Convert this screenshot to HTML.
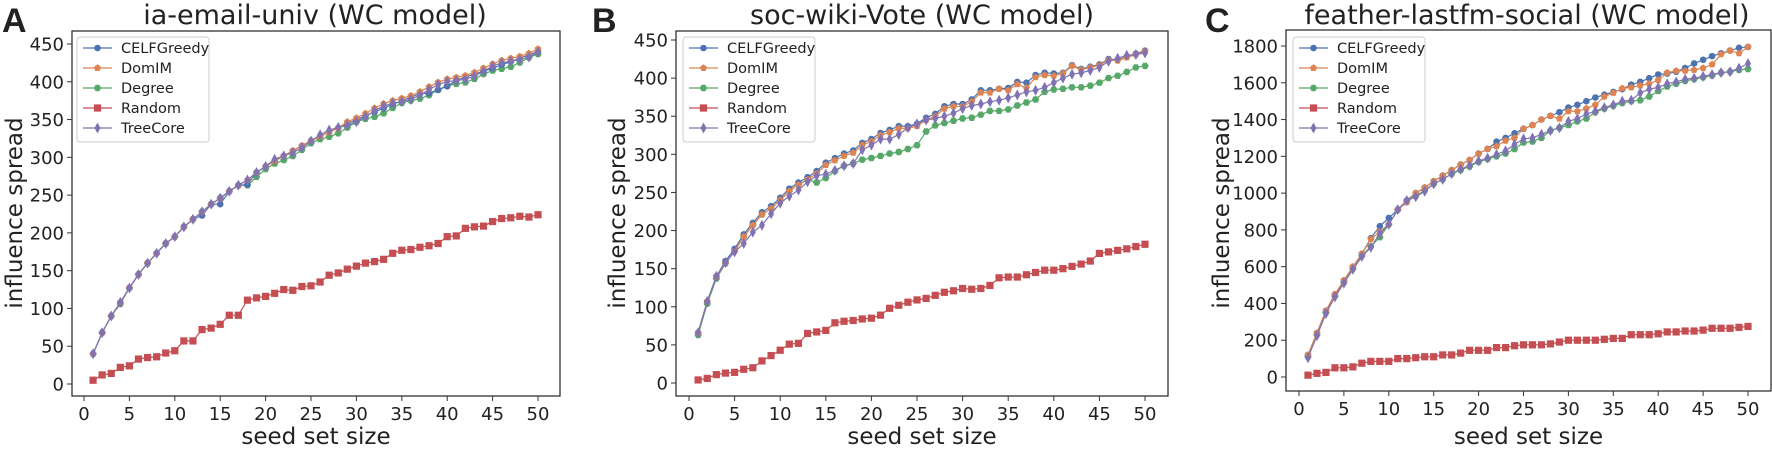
<!DOCTYPE html>
<html><head><meta charset="utf-8"><style>
html,body{margin:0;padding:0;background:#fff;}
svg text{font-family:"DejaVu Sans","Liberation Sans",sans-serif;fill:#222;}
</style></head><body>
<svg id="s" width="1772" height="447" xmlns="http://www.w3.org/2000/svg"></svg>
<script>
function interp(pts){var o=[];for(var k=1;k<=50;k++){for(var i=0;i<pts.length-1;i++){if(k>=pts[i][0]&&k<=pts[i+1][0]){var t=(k-pts[i][0])/(pts[i+1][0]-pts[i][0]);o.push(pts[i][1]+t*(pts[i+1][1]-pts[i][1]));break;}}}return o;}
var C={b:"#4c72b0",o:"#dd8452",g:"#55a868",r:"#c44e52",p:"#8172b3"};
var Amain=interp([[1,40],[2,68],[3,90],[4,108],[5,127],[6,145],[7,160],[8,173],[9,186],[10,195],[11,208],[12,218],[13,228],[14,238],[15,246],[16,255],[17,263],[18,270],[19,280],[20,288],[22,302],[25,322],[30,350],[35,375],[40,398],[45,418],[50,440]]);
function off(a,f){return a.map(function(v,i){return v+f(i+1);});}
var A={
b:off(Amain,function(k){return k==15?-8:k==13?-5:k==18?-6:k>=38&&k<=40?-4:0}),
o:off(Amain,function(k){return k>28?4+Math.sin(k)*2:0}),
g:off(Amain,function(k){return k>17?-5+Math.sin(k*1.3)*2:k==4?-2:0}),
p:off(Amain,function(k){return k>20?Math.sin(k)*3:0}),
r:[5,12,14,22,24,33,35,36,41,44,57,57,72,74,79,91,91,111,114,116,120,125,124,129,130,135,144,147,152,156,160,162,165,173,177,178,181,183,186,195,196,206,208,209,215,219,220,222,221,224]};
var Bc=[66,107,140,160,176,195,210,224,232,243,255,263,270,278,289,295,301,305,315,320,328,332,337,337,340,348,353,363,366,366,372,384,384,386,387,395,394,404,407,406,407,417,412,415,418,425,424,428,432,436];
var B={b:Bc,
o:Bc.map(function(v,i){var k=i+1;return k<4?v:v-3+ (k==34?3:0)+(k>40?2:0)+(k==37?-4:0);}),
g:Bc.slice(0,13).map(function(v){return v-3}).concat([263,269,278,285,288,293,295,298,301,303,307,312,330,338,341,344,347,348,352,357,357,359,364,368,372,382,385,386,388,388,390,394,400,403,408,414,416]),
p:[66,107,140,158,172,183,198,207,222,236,245,253,264,272,274,279,285,288,306,312,320,320,326,335,340,345,347,350,354,360,364,366,369,371,374,378,382,384,388,394,400,405,407,410,414,422,426,430,431,433],
r:[4,6,11,13,14,18,20,29,36,43,51,52,65,67,69,79,81,82,84,85,89,98,102,106,109,111,115,119,121,124,123,124,128,138,139,139,142,145,148,148,150,153,156,160,170,172,174,176,179,182]};
var Cc=[120,240,360,450,525,600,670,755,820,865,910,960,1000,1030,1065,1095,1125,1155,1180,1215,1240,1280,1300,1325,1350,1370,1400,1420,1440,1465,1480,1500,1520,1535,1550,1565,1590,1605,1625,1645,1650,1660,1680,1705,1725,1745,1760,1775,1790,1795];
var Co=Cc.slice();[[8,750],[9,790],[10,830],[11,910],[12,950],[22,1255],[23,1285],[24,1300],[26,1370],[28,1420],[29,1405],[30,1445],[31,1445],[32,1460],[33,1480],[34,1525],[35,1545],[36,1570],[37,1575],[38,1585],[39,1595],[40,1615],[41,1655],[42,1665],[43,1665],[44,1670],[45,1680],[46,1700],[47,1755],[48,1775],[49,1760],[50,1795]].forEach(function(p){Co[p[0]-1]=p[1]});
var Cg=Cc.slice(0,7).map(function(v){return v-10}).concat([710,760,830,910,955,985,1015,1050,1075,1105,1125,1145,1170,1185,1200,1215,1240,1275,1280,1300,1340,1355,1370,1390,1405,1440,1460,1475,1490,1500,1505,1525,1555,1580,1595,1610,1620,1630,1640,1655,1660,1670,1675]);
var Cp=Cc.slice(0,7).map(function(v){return v-15}).concat([705,780,830,910,960,980,1010,1050,1075,1105,1130,1150,1175,1190,1210,1230,1265,1295,1300,1320,1340,1355,1390,1405,1430,1445,1465,1480,1500,1505,1545,1565,1575,1595,1605,1620,1625,1635,1645,1655,1660,1680,1705]);
var Cd={b:Cc,o:Co,g:Cg,p:Cp,r:[10,20,25,50,50,55,75,85,85,85,100,100,105,110,110,120,120,130,145,145,145,160,160,170,175,175,175,180,190,200,200,200,200,205,210,210,230,230,230,235,245,245,250,250,255,265,265,265,270,275]};
var panels=[
{L:"A",lx:2,title:"ia-email-univ (WC model)",tx:315,box:[72,31,560,396],x0:84,x50:538,y0:384,ymax:450,yT:44,ticks:[0,50,100,150,200,250,300,350,400,450],ylx:14,d:A,leg:[77,37]},
{L:"B",lx:592,title:"soc-wiki-Vote (WC model)",tx:922,box:[676,31,1168,396],x0:689,x50:1145,y0:383,ymax:450,yT:40,ticks:[0,50,100,150,200,250,300,350,400,450],ylx:617,d:B,leg:[683,37]},
{L:"C",lx:1205,title:"feather-lastfm-social (WC model)",tx:1527,box:[1286,30,1771,391],x0:1299,x50:1748,y0:377,ymax:1800,yT:46,ticks:[0,200,400,600,800,1000,1200,1400,1600,1800],ylx:1221,d:Cd,leg:[1293,37]}];
var h="";
function marker(t,x,y,c){
 if(t=="b")return '<circle cx="'+x+'" cy="'+y+'" r="3.3" fill="'+c+'"/>';
 if(t=="r")return '<rect x="'+(x-3.6)+'" y="'+(y-3.6)+'" width="7.2" height="7.2" fill="'+c+'"/>';
 if(t=="p")return '<polygon points="'+x+','+(y-5.5)+' '+(x+3)+','+y+' '+x+','+(y+5.5)+' '+(x-3)+','+y+'" fill="'+c+'"/>';
 var n=t=="o"?5:6,pts=[];for(var i=0;i<n;i++){var a=-Math.PI/2+i*2*Math.PI/n+(n==6?Math.PI/6:0);pts.push((x+3.7*Math.cos(a)).toFixed(1)+","+(y+3.7*Math.sin(a)).toFixed(1));}
 return '<polygon points="'+pts.join(" ")+'" fill="'+c+'"/>';
}
panels.forEach(function(P){
 var bx=P.box,sx=(P.x50-P.x0)/50,sy=(P.y0-P.yT)/P.ymax;
 function X(k){return P.x0+k*sx} function Y(v){return P.y0-v*sy}
 h+='<text x="'+P.lx+'" y="32" font-size="34" font-weight="bold" style="font-family:\'Liberation Sans\',sans-serif">'+P.L+'</text>';
 h+='<text x="'+P.tx+'" y="24" font-size="27" text-anchor="middle">'+P.title+'</text>';
 h+='<rect x="'+bx[0]+'" y="'+bx[1]+'" width="'+(bx[2]-bx[0])+'" height="'+(bx[3]-bx[1])+'" fill="none" stroke="#333" stroke-width="1.3"/>';
 for(var k=0;k<=50;k+=5){var x=X(k);h+='<line x1="'+x+'" y1="'+bx[3]+'" x2="'+x+'" y2="'+(bx[3]+5)+'" stroke="#333"/><text x="'+x+'" y="'+(bx[3]+24)+'" font-size="18" text-anchor="middle">'+k+'</text>';}
 P.ticks.forEach(function(v){var y=Y(v);h+='<line x1="'+(bx[0]-5)+'" y1="'+y+'" x2="'+bx[0]+'" y2="'+y+'" stroke="#333"/><text x="'+(bx[0]-8)+'" y="'+(y+6.5)+'" font-size="18" text-anchor="end">'+v+'</text>';});
 h+='<text x="'+((bx[0]+bx[2])/2)+'" y="444" font-size="23" text-anchor="middle">seed set size</text>';
 h+='<text transform="translate('+(P.ylx+8)+',213) rotate(-90)" font-size="23" text-anchor="middle">influence spread</text>';
 ["r","g","b","o","p"].forEach(function(s){var a=P.d[s];var pts=a.map(function(v,i){return X(i+1).toFixed(1)+","+Y(v).toFixed(1)}).join(" ");
  h+='<polyline points="'+pts+'" fill="none" stroke="'+C[s]+'" stroke-width="1.2"/>';
  a.forEach(function(v,i){h+=marker(s,X(i+1),Y(v),C[s]);});});
 var lx=P.leg[0],ly=P.leg[1];
 h+='<rect x="'+lx+'" y="'+ly+'" width="132" height="105" rx="3" fill="#fff" fill-opacity="0.85" stroke="#ccc"/>';
 var names=[["b","CELFGreedy"],["o","DomIM"],["g","Degree"],["r","Random"],["p","TreeCore"]];
 names.forEach(function(n,i){var y=ly+11+i*20;h+='<line x1="'+(lx+6)+'" y1="'+y+'" x2="'+(lx+35)+'" y2="'+y+'" stroke="'+C[n[0]]+'" stroke-width="1.2"/>'+marker(n[0],lx+20.5,y,C[n[0]])+'<text x="'+(lx+44)+'" y="'+(y+5)+'" font-size="14.5">'+n[1]+'</text>';});
});
document.getElementById("s").innerHTML=h;
</script>
</body></html>
